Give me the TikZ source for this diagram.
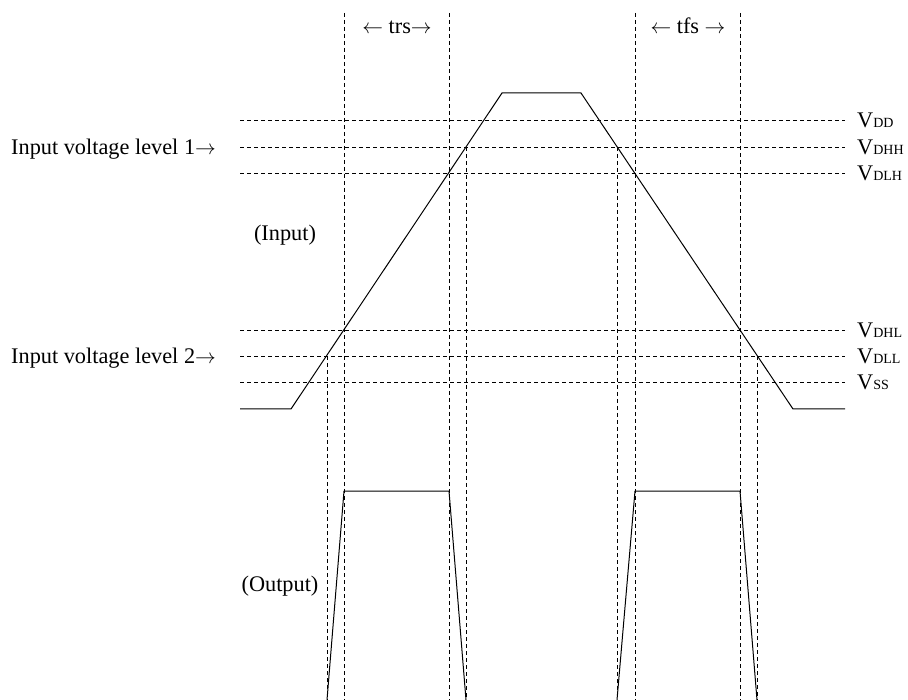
\documentclass[tikz,border=0pt]{standalone}
\usepackage{fontspec}
\setmainfont{Liberation Serif}
\begin{document}
\begin{tikzpicture}[x=1pt,y=-1pt,
  guide/.style={line width=0.8pt,dash pattern=on 4pt off 3pt},
  wave/.style={line width=1pt,line join=miter},
  lbl/.style={inner sep=0pt,font=\fontsize{22.3}{25}\selectfont},
  vlbl/.style={lbl,anchor=base west}]
\useasboundingbox (0,0) rectangle (908,700);
\newcommand{\sublbl}[1]{{\fontsize{14}{15}\selectfont #1}}
% horizontal levels
\foreach \yy/\nm in {120/DD,147/DHH,173/DLH,330/DHL,356/DLL,382/SS}{
  \draw[guide] (240,\yy) -- (845,\yy);
  \node[vlbl] at (857,\yy+8) {V\sublbl{\nm}};
}
% vertical guides from top
\foreach \xx in {344,449,635,740}{
  \draw[guide] (\xx,13) -- (\xx,700);
}
% vertical guides from crossings
\draw[guide] (327,356) -- (327,700);
\draw[guide] (466,147) -- (466,700);
\draw[guide] (617,147) -- (617,700);
\draw[guide] (757,356) -- (757,700);
% input waveform
\coordinate (i0) at (240,409);
\coordinate (i1) at (291,409);
\coordinate (i2) at (502,93);
\coordinate (i3) at (581,93);
\coordinate (i4) at (793,409);
\coordinate (i5) at (845,409);
\draw[wave] (i0) -- (i1) -- (i2) -- (i3) -- (i4) -- (i5);
% output pulses
\draw[wave] (327,700) -- (344,491) -- (449,491) -- (466,700);
\draw[wave] (617,700) -- (635,491) -- (740,491) -- (757,700);
% labels
\node[lbl,anchor=base] (trs) at (397,34) {$\leftarrow$ trs$\rightarrow$};
\node[lbl,anchor=base] (tfs) at (688,34) {$\leftarrow$ tfs $\rightarrow$};
\node[lbl,anchor=base west] (in1) at (11,155) {Input voltage level 1$\rightarrow$};
\node[lbl,anchor=base west] (in2) at (11,364) {Input voltage level 2$\rightarrow$};
\node[lbl,anchor=base] (inp) at (285,241) {(Input)};
\node[lbl,anchor=base] (outp) at (280,591) {(Output)};
\end{tikzpicture}
\end{document}
